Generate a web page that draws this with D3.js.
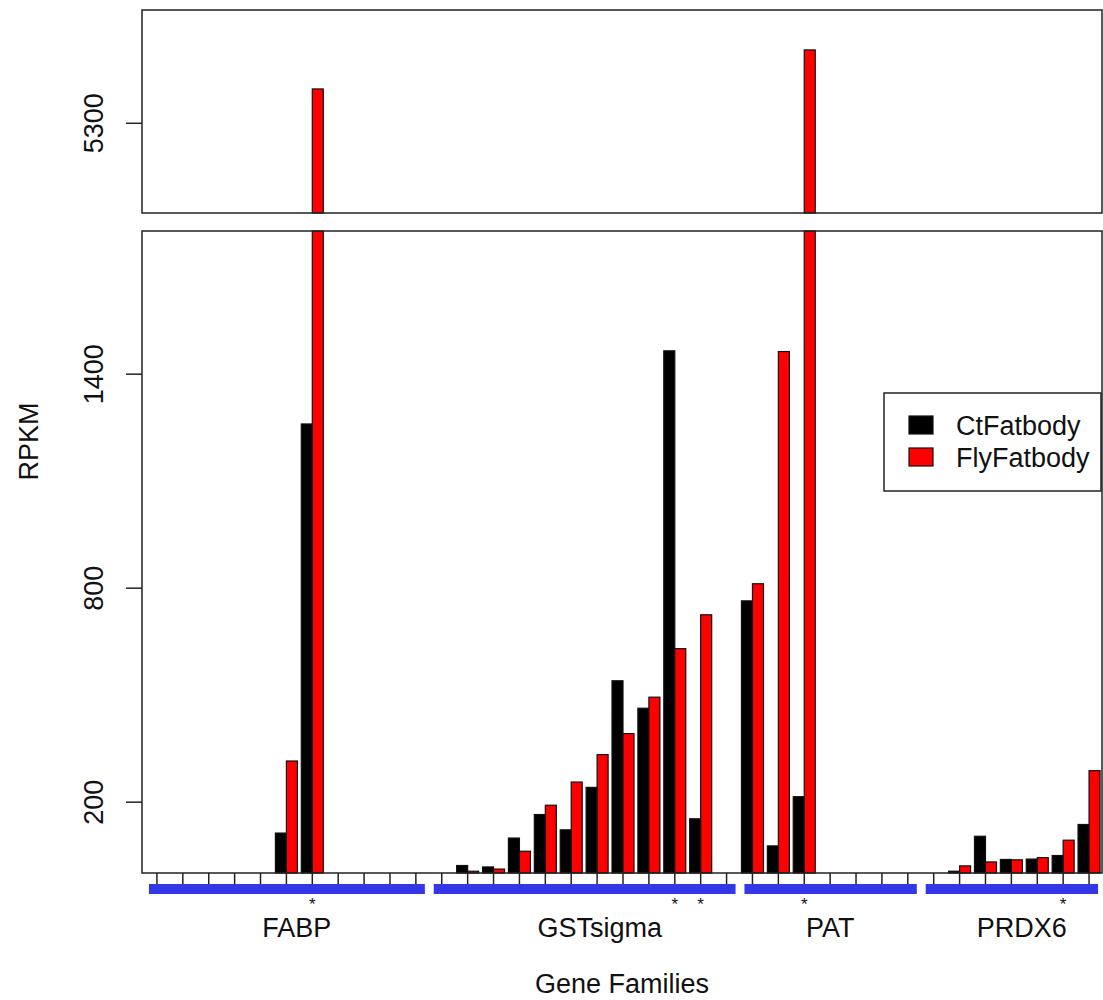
<!DOCTYPE html>
<html>
<head>
<meta charset="utf-8">
<script src="https://cdn.jsdelivr.net/npm/d3@7"></script>
<style>
  html, body { margin: 0; padding: 0; background: #fff; }
  svg { display: block; }
  text { font-family: "Liberation Sans", Arial, sans-serif; fill: #111; }
</style>
</head>
<body>
<svg id="chart" width="1103" height="1000"></svg>
<script>
// ---------------- data ----------------
const families = ["FABP", "GSTsigma", "PAT", "PRDX6"];
const familySizes = [11, 12, 7, 7];
const seriesNames = ["CtFatbody", "FlyFatbody"];
const seriesColors = ["#000000", "#ff0000"];
// RPKM per gene, in family order
const ctFatbody = [
  0, 0, 0, 0, 0, 112, 1259, 0, 0, 0, 0,                 // FABP
  0, 21, 17, 98, 164, 121, 240, 539, 462, 1464, 152, 0, // GSTsigma
  763, 76, 214, 0, 0, 0, 0,                             // PAT
  0, 5, 103, 38, 39, 49, 136                            // PRDX6
];
const flyFatbody = [
  0, 0, 0, 0, 0, 314, 5450, 0, 0, 0, 0,
  0, 5, 11, 61, 190, 255, 332, 391, 493, 629, 724, 0,
  811, 1462, 5623, 0, 0, 0, 0,
  0, 20, 31, 37, 43, 92, 287
];
// significance marks (1 = asterisk)
const significant = [
  0, 0, 0, 0, 0, 0, 1, 0, 0, 0, 0,
  0, 0, 0, 0, 0, 0, 0, 0, 0, 1, 1, 0,
  0, 0, 1, 0, 0, 0, 0,
  0, 0, 0, 0, 0, 1, 0
];
const lowerTicks = [200, 800, 1400];
const upperTicks = [5300];
const yLabel = "RPKM";
const xLabel = "Gene Families";

// ---------------- build ----------------
const genes = [];
let idx = 0;
families.forEach((f, fi) => {
  for (let k = 0; k < familySizes[fi]; k++) {
    genes.push({ id: f + "_" + (k + 1), family: f, fi, k, i: idx,
                 values: [ctFatbody[idx], flyFatbody[idx]], star: significant[idx] });
    idx++;
  }
});

const svg = d3.select("#chart");
const plotL = 142, plotR = 1102;
const upTop = 10, upBot = 213;
const loTop = 231, loBot = 873;

const x = d3.scaleBand().domain(genes.map(g => g.id))
  .range([144, 1102]).paddingInner(0.15).paddingOuter(0.075);
const xs = d3.scaleBand().domain(seriesNames).range([0, x.bandwidth()]);
const yLo = d3.scaleLinear().domain([0, 1800]).range([loBot, loTop]);
const yUp = d3.scaleLinear().domain([4900, 5800]).range([upBot, upTop]);
const color = d3.scaleOrdinal().domain(seriesNames).range(seriesColors);
const cx = g => x(g.id) + x.bandwidth() / 2;

const barData = [];
genes.forEach(g => seriesNames.forEach((s, si) => {
  barData.push({ g, s, v: g.values[si] });
}));

// lower panel bars
svg.append("g").selectAll("rect")
  .data(barData.filter(d => d.v > 0))
  .join("rect")
  .attr("x", d => x(d.g.id) + xs(d.s))
  .attr("width", xs.bandwidth())
  .attr("y", d => yLo(Math.min(d.v, yLo.domain()[1])))
  .attr("height", d => yLo(0) - yLo(Math.min(d.v, yLo.domain()[1])))
  .attr("fill", d => color(d.s))
  .attr("stroke", "#111").attr("stroke-width", 1.2);

// upper panel bars
svg.append("g").selectAll("rect")
  .data(barData.filter(d => d.v > yUp.domain()[0]))
  .join("rect")
  .attr("x", d => x(d.g.id) + xs(d.s))
  .attr("width", xs.bandwidth())
  .attr("y", d => yUp(Math.min(d.v, yUp.domain()[1])))
  .attr("height", d => yUp(yUp.domain()[0]) - yUp(Math.min(d.v, yUp.domain()[1])))
  .attr("fill", d => color(d.s))
  .attr("stroke", "#111").attr("stroke-width", 1.2);

// panel boxes
[[upTop, upBot], [loTop, loBot]].forEach(([t, b]) => {
  svg.append("rect").attr("x", plotL).attr("y", t)
    .attr("width", plotR - plotL).attr("height", b - t)
    .attr("fill", "none").attr("stroke", "#222").attr("stroke-width", 1.5);
});

// y axes
const yAxLo = svg.append("g").attr("transform", `translate(${plotL},0)`)
  .call(d3.axisLeft(yLo).tickValues(lowerTicks).tickSize(16).tickFormat(d3.format("d")));
const yAxUp = svg.append("g").attr("transform", `translate(${plotL},0)`)
  .call(d3.axisLeft(yUp).tickValues(upperTicks).tickSize(16).tickFormat(d3.format("d")));
[yAxLo, yAxUp].forEach(a => {
  a.select(".domain").remove();
  a.selectAll(".tick line").attr("stroke", "#222").attr("stroke-width", 1.5);
  a.selectAll(".tick text")
    .attr("x", null).attr("dy", null)
    .attr("transform", "translate(-39,0) rotate(-90)")
    .attr("text-anchor", "middle")
    .attr("font-size", 27).attr("fill", "#111");
});

// x axis ticks
const xAx = svg.append("g").attr("transform", `translate(0,${loBot})`)
  .call(d3.axisBottom(x).tickSize(11).tickFormat(""));
xAx.select(".domain").remove();
xAx.selectAll(".tick line").attr("stroke", "#222").attr("stroke-width", 1.5);

// family segments
const famGroups = families.map(f => genes.filter(g => g.family === f));
svg.append("g").selectAll("line")
  .data(famGroups)
  .join("line")
  .attr("x1", gs => cx(gs[0]) - 8)
  .attr("x2", gs => cx(gs[gs.length - 1]) + 9)
  .attr("y1", 889).attr("y2", 889)
  .attr("stroke", "#3338e6").attr("stroke-width", 10);

// asterisks
svg.append("g").selectAll("text")
  .data(genes.filter(g => g.star))
  .join("text")
  .attr("x", cx).attr("y", 910)
  .attr("text-anchor", "middle").attr("font-size", 17)
  .text("*");

// family labels (fractional gene index within family)
const labelShift = [5.4, 6.1, 3.0, 3.4];
const xi = d3.scaleLinear().domain([0, genes.length - 1])
  .range([cx(genes[0]), cx(genes[genes.length - 1])]);
svg.append("g").selectAll("text")
  .data(famGroups)
  .join("text")
  .attr("x", (gs, i) => xi(gs[0].i + labelShift[i]))
  .attr("y", 937)
  .attr("text-anchor", "middle").attr("font-size", 27)
  .text(gs => gs[0].family);

// axis titles
svg.append("text").attr("x", (plotL + plotR) / 2).attr("y", 993)
  .attr("text-anchor", "middle").attr("font-size", 27).text(xLabel);
svg.append("text").attr("transform", `translate(38,${(upTop + loBot) / 2}) rotate(-90)`)
  .attr("text-anchor", "middle").attr("font-size", 27).text(yLabel);

// legend
const lg = svg.append("g");
lg.append("rect").attr("x", 884).attr("y", 393).attr("width", 217).attr("height", 98)
  .attr("fill", "#fff").attr("stroke", "#222").attr("stroke-width", 1.5);
const li = lg.selectAll("g.item").data(seriesNames).join("g").attr("class", "item")
  .attr("transform", (d, i) => `translate(0,${i * 32})`);
li.append("rect").attr("x", 909).attr("y", 416).attr("width", 24).attr("height", 18)
  .attr("fill", d => color(d)).attr("stroke", "#111").attr("stroke-width", 1.2);
li.append("text").attr("x", 956).attr("y", 435).attr("font-size", 27).text(d => d);
</script>
</body>
</html>
